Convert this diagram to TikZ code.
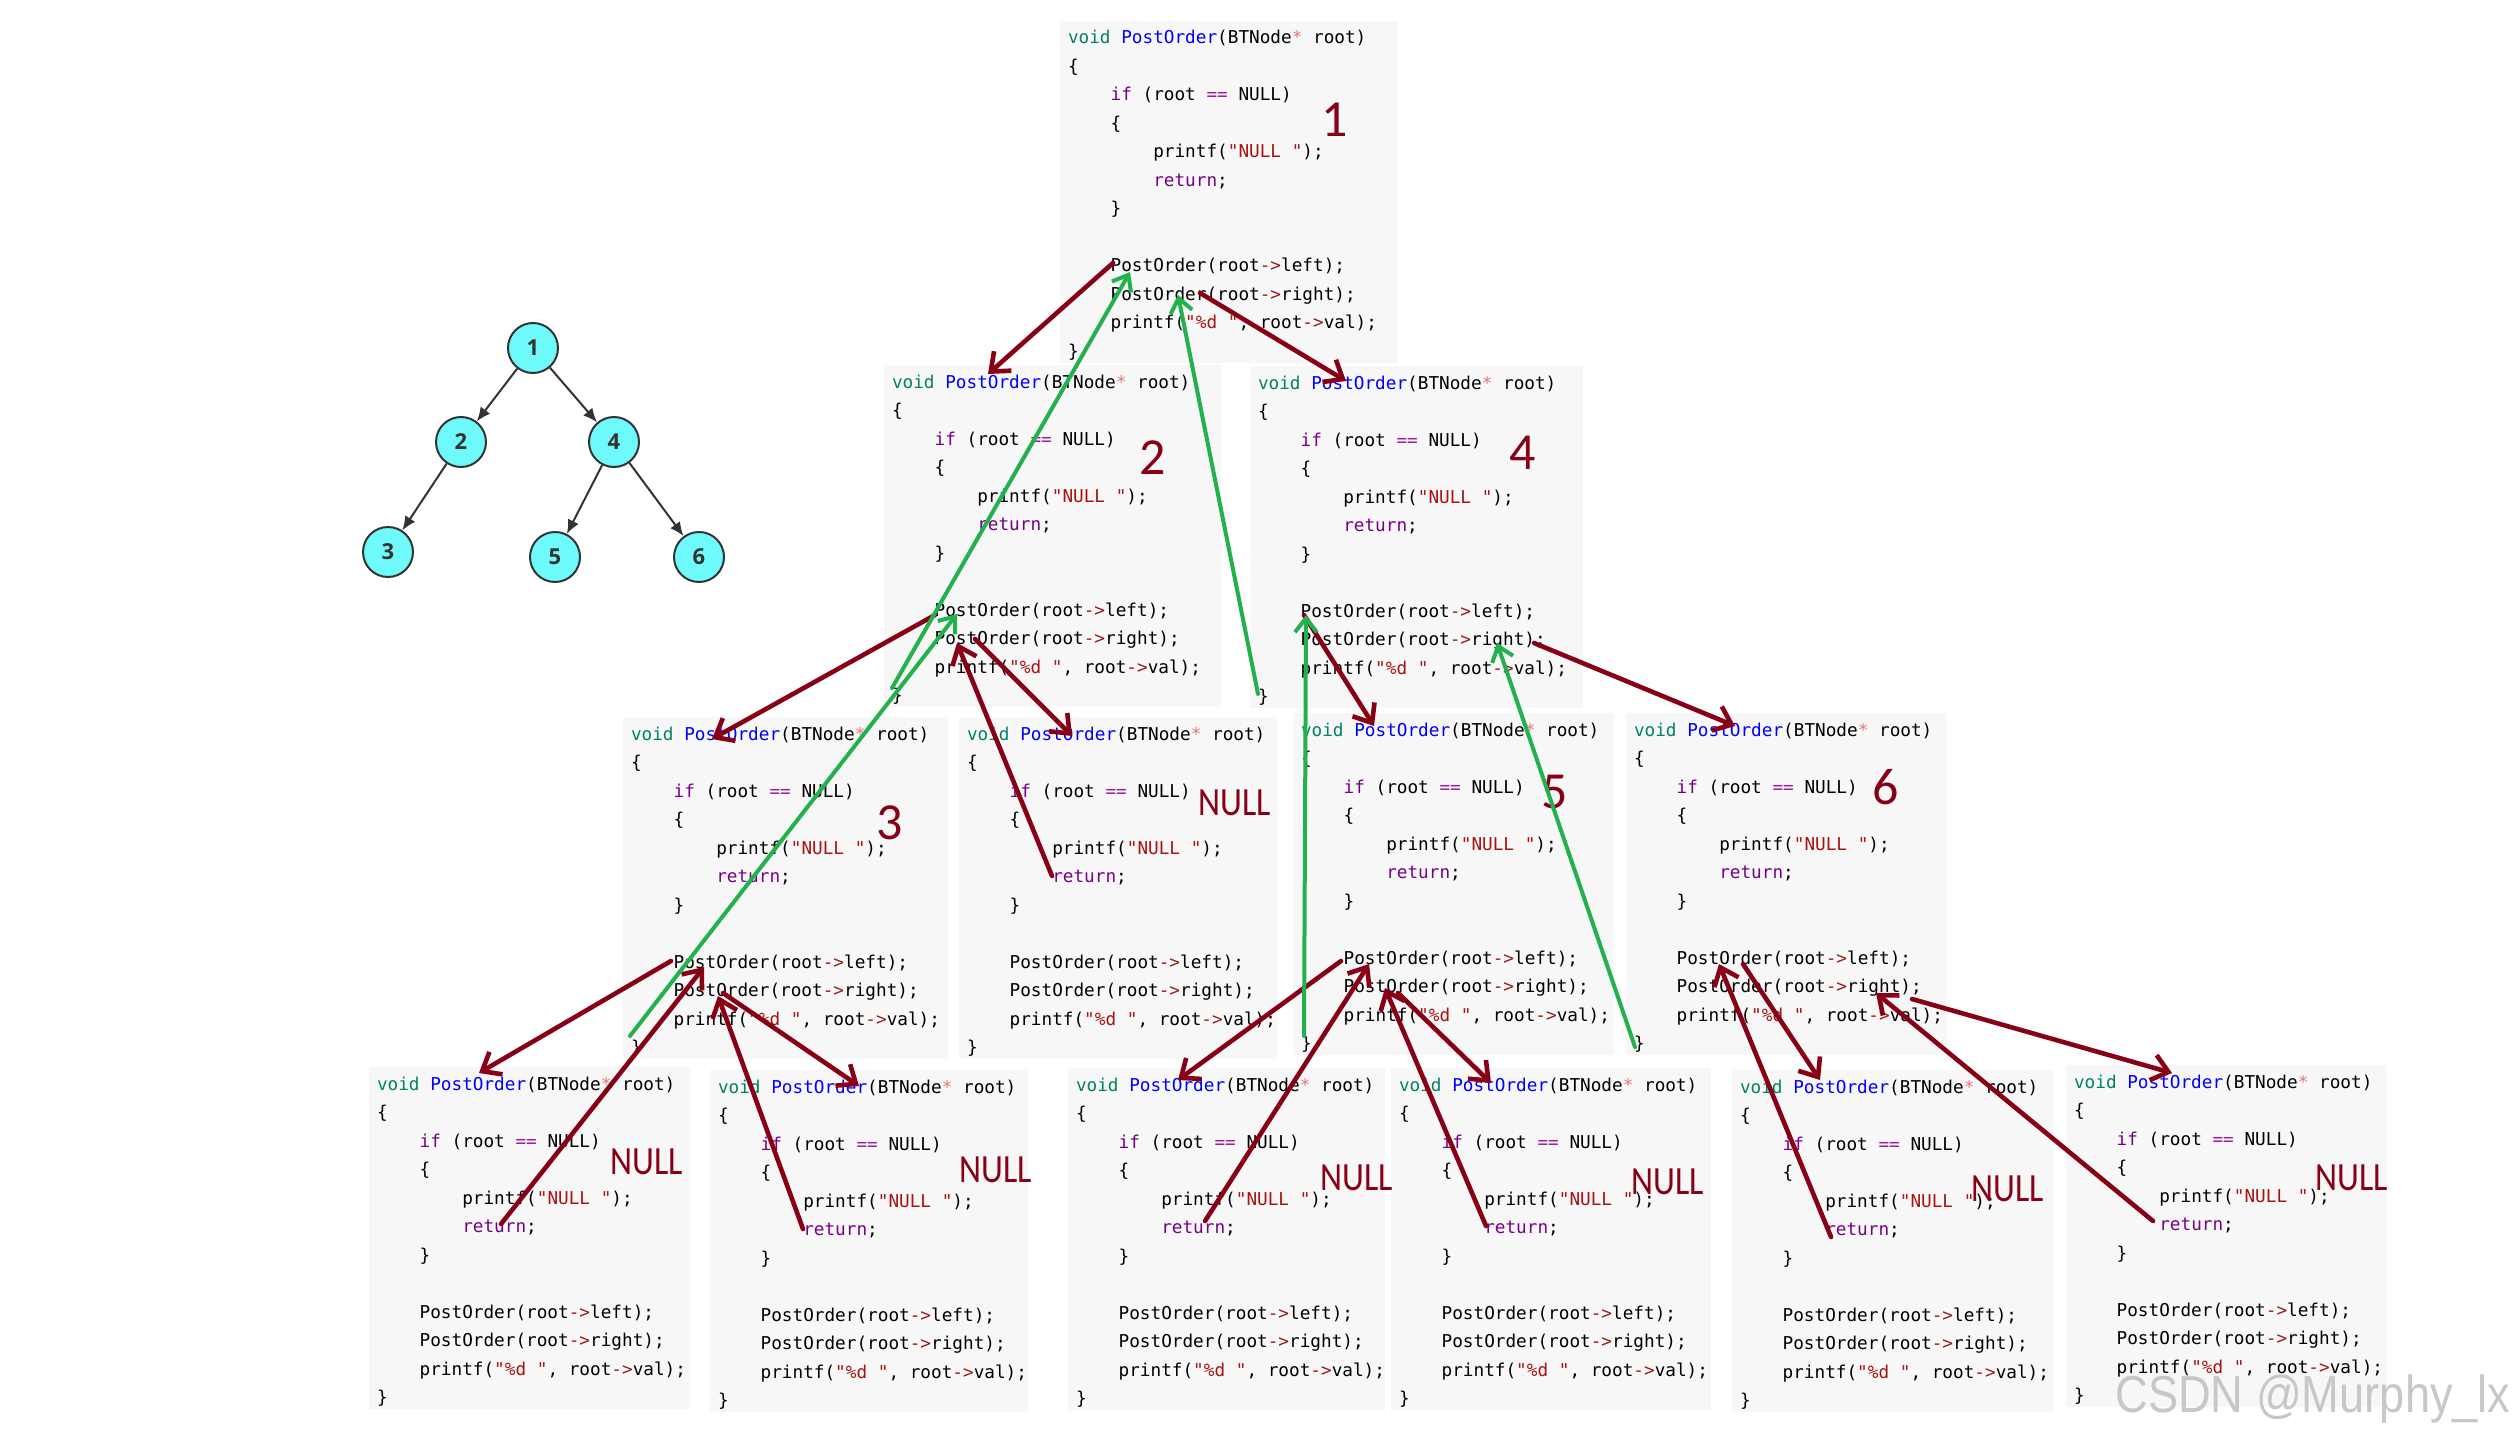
\documentclass[tikz,border=0pt]{standalone}
\usepackage{fontspec}
\usepackage{graphicx}
\usetikzlibrary{
  arrows.meta,
  calc,         % offsets from the corners of the code frames
}
\newfontfamily\codefont{DejaVu Sans Mono}
\newfontfamily\notefont{Carlito}
\newfontfamily\treefont{Open Sans}
\newfontfamily\markfont{Liberation Sans}

\definecolor{paintred}{RGB}{136,0,21}
\definecolor{paintgreen}{RGB}{34,177,76}
\definecolor{codebg}{RGB}{247,247,247}
\definecolor{typecol}{RGB}{0,130,100}
\definecolor{funcol}{RGB}{0,0,255}
\definecolor{keycol}{RGB}{119,0,136}
\definecolor{strcol}{RGB}{170,17,17}
\definecolor{eqcol}{RGB}{152,26,154}
\definecolor{arrcol}{RGB}{152,26,26}
\definecolor{starcol}{RGB}{230,120,120}
\definecolor{treefill}{RGB}{110,250,250}
\definecolor{treeline}{RGB}{51,51,51}

\newcommand{\cdType}[1]{\textcolor{typecol}{#1}}
\newcommand{\cdFun} [1]{\textcolor{funcol}{#1}}
\newcommand{\cdKey} [1]{\textcolor{keycol}{#1}}
\newcommand{\cdStr} [1]{\textcolor{strcol}{#1}}
\newcommand{\cdEq}  [1]{\textcolor{eqcol}{#1}}
\newcommand{\cdArr} [1]{\textcolor{arrcol}{#1}}
\newcommand{\cdStar}[1]{\textcolor{starcol}{#1}}
\newcommand{\cdInd}{\phantom{xxxx}}
\newcommand{\nullword}{\scalebox{0.85}[1]{NULL}}

\newcommand{\postorder}{%
\begin{tabular}[t]{@{}l@{}}
\cdType{void} \cdFun{PostOrder}(BTNode\cdStar{*} root)\\
\{\\
\cdInd\cdKey{if} (root \cdEq{==} NULL)\\
\cdInd\{\\
\cdInd\cdInd printf(\cdStr{"NULL "});\\
\cdInd\cdInd\cdKey{return};\\
\cdInd\}\\
\\
\cdInd PostOrder(root\cdArr{->}left);\\
\cdInd PostOrder(root\cdArr{->}right);\\
\cdInd printf(\cdStr{"\%d "}, root\cdArr{->}val);\\
\}
\end{tabular}}

% frame name, x, y, frame width
\newcommand{\codeblock}[4]{%
  \node[codebox,minimum width=#4] (#1) at (#2,#3) {};
  \node[codetext] (#1-code) at ($(#1.north west)+(8,23)$) {\postorder};
}

\tikzset{
  codebox/.style={
    fill=codebg,
    anchor=north west,
    inner sep=0pt,
    outer sep=0pt,
    minimum height=171pt
  },
  codetext/.style={
    anchor=base west,
    inner sep=0pt,
    outer sep=0pt,
    font=\codefont\fontsize{8.85}{14.25}\selectfont
  },
  numlabel/.style={
    text=paintred,
    inner sep=0pt,
    font=\notefont\fontsize{26}{26}\selectfont
  },
  nulllabel/.style={
    text=paintred,
    inner sep=0pt,
    font=\notefont\fontsize{20}{20}\selectfont
  },
  callline/.style={
    draw=paintred,
    line width=2.3pt,
    line cap=round,
    -{Straight Barb[length=8pt,width=13pt]}
  },
  retline/.style={
    draw=paintgreen,
    line width=2pt,
    line cap=round,
    -{Straight Barb[length=7pt,width=11pt]}
  },
  treenode/.style={
    circle,
    draw=treeline,
    line width=1pt,
    fill=treefill,
    minimum size=25pt,
    inner sep=0pt,
    text=treeline,
    font=\treefont\bfseries\fontsize{11}{11}\selectfont
  },
  treeedge/.style={
    draw=treeline,
    line width=1pt,
    -{Latex[length=7pt,width=6pt]}
  },
  marktext/.style={
    text=black!22,
    inner sep=0pt,
    font=\markfont\fontsize{26}{26}\selectfont
  }
}

\begin{document}
\begin{tikzpicture}[x=0.5pt,y=-0.5pt]
\useasboundingbox (0,0) rectangle (2519,1439);

% the tree
\node[treenode] (t1) at (533,348) {1};
\node[treenode] (t2) at (461,442) {2};
\node[treenode] (t4) at (614,442) {4};
\node[treenode] (t3) at (388,552) {3};
\node[treenode] (t5) at (555,557) {5};
\node[treenode] (t6) at (699,557) {6};
\draw[treeedge] (t1) -- (t2);
\draw[treeedge] (t1) -- (t4);
\draw[treeedge] (t2) -- (t3);
\draw[treeedge] (t4) -- (t5);
\draw[treeedge] (t4) -- (t6);

% one frame per call
\codeblock{b1}{1060}{21}{169pt}
\codeblock{b2}{884}{365}{168.5pt}
\codeblock{b4}{1250}{366}{166.5pt}
\codeblock{b3}{623}{717}{162.5pt}
\codeblock{n2r}{959}{717}{159pt}
\codeblock{b5}{1293}{713}{160.5pt}
\codeblock{b6}{1626}{713}{160.5pt}
\codeblock{n3l}{369}{1067}{160.5pt}
\codeblock{n3r}{710}{1070}{159pt}
\codeblock{n5l}{1068}{1068}{158.5pt}
\codeblock{n5r}{1391}{1068}{160pt}
\codeblock{n6l}{1732}{1070}{160.5pt}
\codeblock{n6r}{2066}{1065}{160.5pt}

\node[numlabel] (l1) at (1335,120) {1};
\node[numlabel] (l2) at (1153,458) {2};
\node[numlabel] (l4) at (1523,453) {4};
\node[numlabel] (l3) at (890,823)  {3};
\node[numlabel] (l5) at (1555,792) {5};
\node[numlabel] (l6) at (1886,787) {6};

\node[nulllabel] (z2r) at (1235,803)  {\nullword};
\node[nulllabel] (z3l) at (647,1162)  {\nullword};
\node[nulllabel] (z3r) at (996,1170)  {\nullword};
\node[nulllabel] (z5l) at (1357,1178) {\nullword};
\node[nulllabel] (z5r) at (1668,1182) {\nullword};
\node[nulllabel] (z6l) at (2008,1189) {\nullword};
\node[nulllabel] (z6r) at (2352,1178) {\nullword};

% calls going down
\draw[callline] ($(b1.north west)+(53,242)$)  -- ($(b2.north west)+(104,9)$);
\draw[callline] ($(b1.north west)+(140,272)$) -- ($(b4.north west)+(96,15)$);
\draw[callline] ($(b2.north west)+(51,250)$)  -- ($(b3.north west)+(89,22)$);
\draw[callline] ($(b2.north west)+(91,274)$)  -- ($(n2r.north west)+(113,19)$);
\draw[callline] ($(b3.north west)+(48,244)$)  -- ($(n3l.north west)+(110,6)$);
\draw[callline] ($(b3.north west)+(100,276)$) -- ($(n3r.north west)+(149,16)$);
\draw[callline] ($(b4.north west)+(54,249)$)  -- ($(b5.north west)+(81,13)$);
\draw[callline] ($(b4.north west)+(284,277)$) -- ($(b6.north west)+(109,13)$);
\draw[callline] ($(b5.north west)+(48,248)$)  -- ($(n5l.north west)+(110,12)$);
\draw[callline] ($(b5.north west)+(105,280)$) -- ($(n5r.north west)+(100,15)$);
\draw[callline] ($(b6.north west)+(117,251)$) -- ($(n6l.north west)+(88,10)$);
\draw[callline] ($(b6.north west)+(286,286)$) -- ($(n6r.north west)+(106,8)$);

% NULL returns
\draw[callline] ($(n2r.north west)+(93,159)$)  -- ($(b2.north west)+(73,278)$);
\draw[callline] ($(n3l.north west)+(132,157)$) -- ($(b3.north west)+(81,250)$);
\draw[callline] ($(n3r.north west)+(93,159)$)  -- ($(b3.north west)+(95,279)$);
\draw[callline] ($(n5l.north west)+(137,153)$) -- ($(b5.north west)+(76,251)$);
\draw[callline] ($(n5r.north west)+(95,158)$)  -- ($(b5.north west)+(92,275)$);
\draw[callline] ($(n6l.north west)+(99,167)$)  -- ($(b6.north west)+(93,251)$);
\draw[callline] ($(n6r.north west)+(87,156)$)  -- ($(b6.north west)+(250,280)$);

% returns after the printf
\draw[retline] ($(b2.north west)+(8,323)$) -- ($(b1.north west)+(70,251)$);
\draw[retline] ($(b4.north west)+(8,328)$) -- ($(b1.north west)+(118,274)$);
\draw[retline] ($(b3.north west)+(7,319)$) -- ($(b2.north west)+(73,249)$);
\draw[retline] ($(b5.north west)+(11,323)$) -- ($(b4.north west)+(56,249)$);
\draw[retline] ($(b6.north west)+(9,334)$) -- ($(b4.north west)+(247,277)$);

\node[marktext] (wm) at (2313,1399) {\scalebox{0.87}[1]{CSDN @Murphy\_lx}};
\end{tikzpicture}
\end{document}
